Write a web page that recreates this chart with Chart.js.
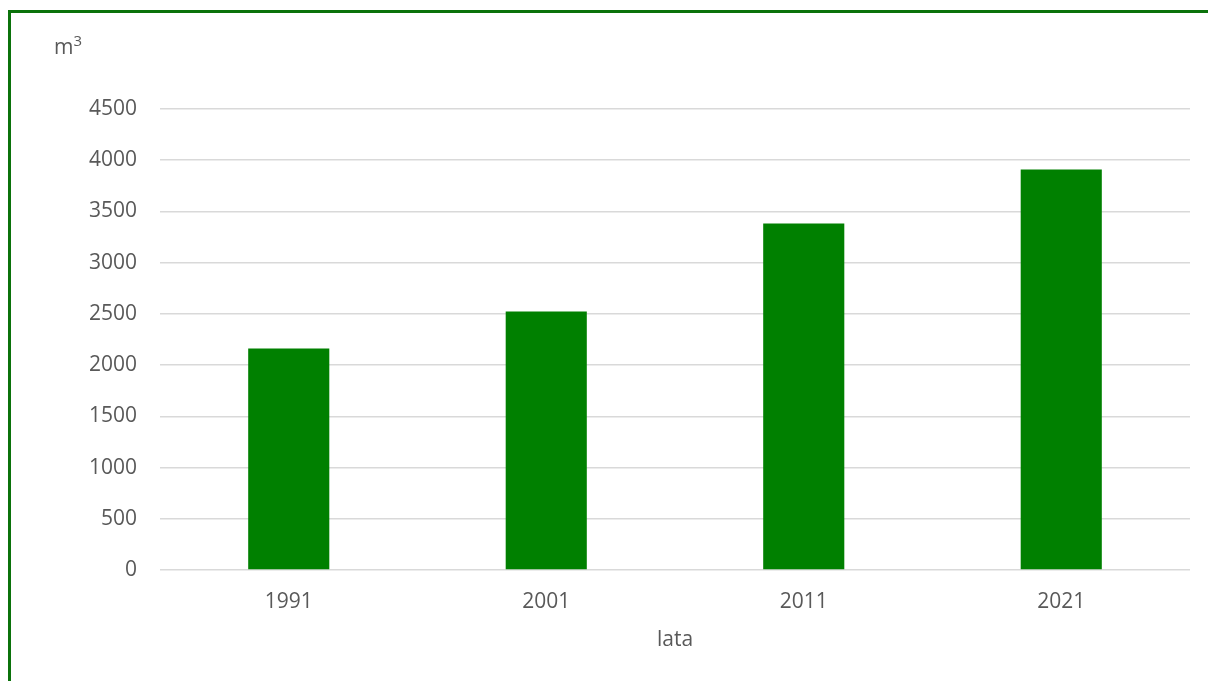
<!DOCTYPE html>
<html>
<head>
    <title>Chart</title>
    <style>
        html, body {
            margin: 0;
            padding: 0;
            background: #ffffff;
        }

        .wrap {
            position: relative;
            width: 1208px;
            height: 681px;
            overflow: hidden;
        }

        .frame {
            position: absolute;
            left: 8px;
            top: 10px;
            width: 1300px;
            height: 800px;
            border-left: 3px solid #0b720b;
            border-top: 3px solid #0b720b;
            pointer-events: none;
        }

        .unit {
            position: absolute;
            left: 54px;
            top: 32px;
            font-family: "Open Sans", sans-serif;
            font-size: 21px;
            color: #595959;
        }

        .unit sup {
            font-size: 15px;
            vertical-align: 8px;
            line-height: 0;
        }
    </style>
    <script src="https://cdn.jsdelivr.net/npm/chart.js"></script>
</head>
<body>
    <div class="wrap">
        <canvas id="chart" width="1208" height="681"></canvas>
        <div class="frame"></div>
        <div class="unit">m<sup>3</sup></div>
    </div>

    <script>
        // data
        const years = ['1991', '2001', '2011', '2021'];
        const volumes = [2163, 2524, 3383, 3910];
        const yTicks = [0, 500, 1000, 1500, 2000, 2500, 3000, 3500, 4000, 4500];

        const textColor = '#595959';
        const fontFamily = '"Open Sans", sans-serif';

        const ctx = document.getElementById('chart').getContext('2d');
        new Chart(ctx, {
            type: 'bar',
            data: {
                labels: years,
                datasets: [{
                    label: 'm3',
                    data: volumes,
                    backgroundColor: '#008000',
                    borderWidth: 0,
                    barPercentage: 0.315,
                    categoryPercentage: 1
                }]
            },
            options: {
                responsive: false,
                animation: false,
                layout: {
                    padding: { top: 109, right: 18, left: 0, bottom: 0 }
                },
                plugins: {
                    legend: { display: false },
                    tooltip: { enabled: false }
                },
                scales: {
                    x: {
                        grid: { display: false },
                        border: { display: false },
                        ticks: {
                            color: textColor,
                            font: { family: fontFamily, size: 21 },
                            padding: 11,
                            maxRotation: 0
                        },
                        title: {
                            display: true,
                            text: 'lata',
                            color: textColor,
                            font: { family: fontFamily, size: 21 },
                            padding: { top: 4, bottom: 28 }
                        },
                        afterFit: function (scale) {
                            scale.height = 111;
                        }
                    },
                    y: {
                        min: yTicks[0],
                        max: yTicks[yTicks.length - 1],
                        afterBuildTicks: function (scale) {
                            scale.ticks = yTicks.map(v => ({ value: v }));
                        },
                        grid: {
                            color: '#d9d9d9',
                            lineWidth: 1.5,
                            drawTicks: false
                        },
                        border: { display: false },
                        ticks: {
                            color: textColor,
                            font: { family: fontFamily, size: 21 },
                            padding: 23,
                            callback: value => String(value)
                        },
                        afterFit: function (scale) {
                            scale.width = 160;
                        }
                    }
                }
            }
        });
    </script>
</body>
</html>
